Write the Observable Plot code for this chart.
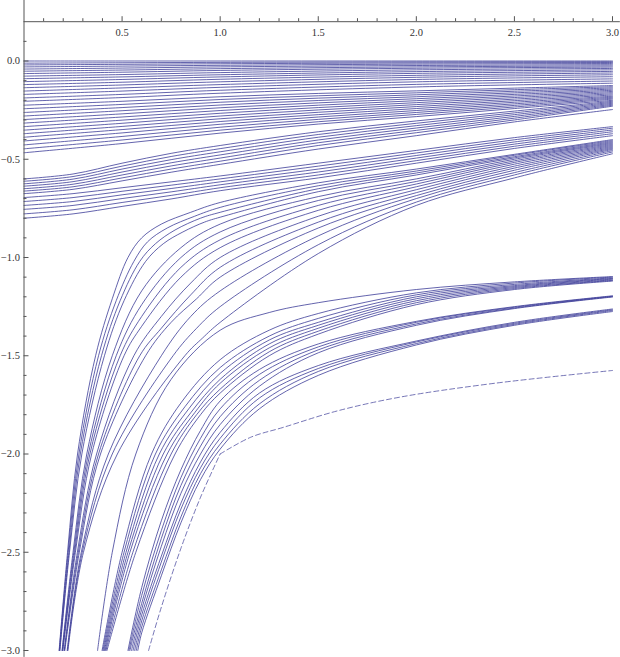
<!DOCTYPE html>
<html><head><meta charset="utf-8">
<script src="https://cdn.jsdelivr.net/npm/d3@7"></script>
<script src="https://cdn.jsdelivr.net/npm/@observablehq/plot@0.6"></script>
<style>body{margin:0;background:#fff}</style>
</head><body><div id="chart"></div>
<script>
// ---- tick labels ----
const xTickValues = [0.5, 1.0, 1.5, 2.0, 2.5, 3.0];
const xTickLabels = ["0.5", "1.0", "1.5", "2.0", "2.5", "3.0"];
const yTickValues = [0, -0.5, -1, -1.5, -2, -2.5, -3];
const yTickLabels = ["0.0", "\u22120.5", "\u22121.0", "\u22121.5", "\u22122.0", "\u22122.5", "\u22123.0"];

// ---- top fan (starts 0 .. -0.2 at x=0) ----
const s1aX = [0, 0.5, 1, 2, 3];
const s1aY = [
  [0, 0, 0, 0, 0],
  [-0.011, -0.009, -0.007, -0.005, -0.004],
  [-0.02, -0.017, -0.014, -0.01, -0.008],
  [-0.03, -0.026, -0.022, -0.016, -0.013],
  [-0.041, -0.036, -0.03, -0.023, -0.019],
  [-0.052, -0.046, -0.039, -0.03, -0.025],
  [-0.064, -0.057, -0.048, -0.037, -0.031],
  [-0.077, -0.069, -0.059, -0.045, -0.038],
  [-0.09, -0.081, -0.07, -0.054, -0.045],
  [-0.105, -0.094, -0.081, -0.063, -0.053],
  [-0.12, -0.108, -0.093, -0.073, -0.061],
  [-0.136, -0.122, -0.106, -0.083, -0.07],
  [-0.153, -0.137, -0.12, -0.094, -0.08],
  [-0.17, -0.153, -0.134, -0.106, -0.091],
  [-0.188, -0.17, -0.149, -0.119, -0.102],
  [-0.205, -0.186, -0.164, -0.132, -0.113]
];

// ---- second fan (starts -0.22 .. -0.47 at x=0) ----
const s1bX = [0, 0.5, 1, 1.5, 2, 2.5, 3];
const s1bY = [
  [-0.225, -0.205, -0.182, -0.165, -0.152, -0.138, -0.125],
  [-0.243, -0.221, -0.196, -0.177, -0.162, -0.146, -0.131],
  [-0.262, -0.237, -0.21, -0.189, -0.172, -0.154, -0.137],
  [-0.28, -0.253, -0.224, -0.201, -0.182, -0.162, -0.143],
  [-0.298, -0.269, -0.238, -0.213, -0.192, -0.17, -0.149],
  [-0.316, -0.285, -0.252, -0.225, -0.202, -0.178, -0.155],
  [-0.334, -0.301, -0.266, -0.237, -0.212, -0.186, -0.161],
  [-0.352, -0.317, -0.28, -0.249, -0.222, -0.194, -0.167],
  [-0.37, -0.333, -0.294, -0.261, -0.232, -0.202, -0.173],
  [-0.388, -0.349, -0.308, -0.273, -0.242, -0.21, -0.179],
  [-0.407, -0.366, -0.322, -0.285, -0.252, -0.218, -0.184],
  [-0.427, -0.384, -0.337, -0.297, -0.262, -0.226, -0.189],
  [-0.447, -0.402, -0.352, -0.309, -0.272, -0.234, -0.194],
  [-0.467, -0.42, -0.367, -0.321, -0.283, -0.242, -0.2]
];

// ---- band starting -0.60 .. -0.68 ----
const s2X = [0, 0.25, 0.5, 0.75, 1, 1.5, 2, 2.5, 3];
const s2uY = [
  [-0.600, -0.575, -0.52, -0.47, -0.43, -0.36, -0.305, -0.255, -0.205],
  [-0.612, -0.588, -0.535, -0.486, -0.446, -0.374, -0.317, -0.264, -0.21],
  [-0.625, -0.601, -0.55, -0.502, -0.462, -0.388, -0.329, -0.273, -0.215],
  [-0.637, -0.614, -0.565, -0.518, -0.478, -0.402, -0.341, -0.282, -0.22],
  [-0.65, -0.627, -0.58, -0.534, -0.494, -0.416, -0.353, -0.291, -0.225],
  [-0.662, -0.64, -0.595, -0.55, -0.51, -0.43, -0.365, -0.3, -0.23],
  [-0.675, -0.653, -0.61, -0.566, -0.526, -0.448, -0.38, -0.31, -0.247]
];
// ---- band starting -0.70 .. -0.80 ----
const s2lY = [
  [-0.695, -0.675, -0.645, -0.615, -0.585, -0.52, -0.455, -0.39, -0.334],
  [-0.715, -0.695, -0.663, -0.632, -0.6, -0.535, -0.468, -0.401, -0.342],
  [-0.735, -0.715, -0.681, -0.649, -0.615, -0.55, -0.481, -0.412, -0.351],
  [-0.755, -0.735, -0.7, -0.666, -0.63, -0.565, -0.494, -0.423, -0.36],
  [-0.778, -0.757, -0.72, -0.684, -0.645, -0.58, -0.507, -0.434, -0.37],
  [-0.8, -0.778, -0.74, -0.702, -0.66, -0.595, -0.52, -0.445, -0.38]
];

// ---- steep fan F1 (from -3 near x=0.18..0.22), points [x, y] ----
const f1Lines = [
  [[0.179,-3],[0.222,-2.5],[0.273,-2],[0.365,-1.5],[0.45,-1.21],[0.53,-1.0],[0.6,-0.9],[0.7,-0.83],[0.85,-0.77],[1,-0.72],[1.5,-0.62],[2,-0.55],[2.5,-0.475],[3,-0.40]],
  [[0.180,-3],[0.225,-2.5],[0.28,-2],[0.38,-1.5],[0.47,-1.22],[0.56,-1.02],[0.63,-0.92],[0.73,-0.85],[0.87,-0.79],[1,-0.745],[1.5,-0.635],[2,-0.56],[2.5,-0.48],[3,-0.405]],
  [[0.182,-3],[0.229,-2.5],[0.287,-2],[0.395,-1.5],[0.49,-1.22],[0.59,-1.02],[0.67,-0.93],[0.77,-0.86],[0.9,-0.8],[1,-0.77],[1.5,-0.65],[2,-0.57],[2.5,-0.487],[3,-0.41]],
  [[0.183,-3],[0.232,-2.5],[0.295,-2],[0.41,-1.5],[0.51,-1.22],[0.62,-1.02],[0.71,-0.93],[0.81,-0.87],[0.92,-0.82],[1,-0.795],[1.5,-0.665],[2,-0.58],[2.5,-0.493],[3,-0.415]],
  [[0.194,-3],[0.25,-2.5],[0.32,-2],[0.45,-1.5],[0.6,-1.17],[0.8,-0.95],[1,-0.83],[1.5,-0.69],[2,-0.6],[2.5,-0.5],[3,-0.42]],
  [[0.195,-3],[0.254,-2.5],[0.328,-2],[0.47,-1.5],[0.6,-1.24],[0.8,-1.0],[1,-0.87],[1.5,-0.71],[2,-0.613],[2.5,-0.508],[3,-0.425]],
  [[0.197,-3],[0.258,-2.5],[0.336,-2],[0.49,-1.5],[0.6,-1.3],[0.8,-1.05],[1,-0.91],[1.5,-0.735],[2,-0.626],[2.5,-0.516],[3,-0.43]],
  [[0.198,-3],[0.262,-2.5],[0.345,-2],[0.51,-1.5],[0.6,-1.35],[0.8,-1.1],[1,-0.95],[1.5,-0.76],[2,-0.64],[2.5,-0.525],[3,-0.435]],
  [[0.205,-3],[0.272,-2.5],[0.37,-2],[0.56,-1.5],[0.7,-1.3],[0.85,-1.13],[1,-1.0],[1.5,-0.79],[2,-0.655],[2.5,-0.535],[3,-0.44]],
  [[0.206,-3],[0.277,-2.5],[0.38,-2],[0.59,-1.5],[0.7,-1.36],[0.85,-1.19],[1,-1.05],[1.5,-0.82],[2,-0.67],[2.5,-0.545],[3,-0.445]],
  [[0.208,-3],[0.282,-2.5],[0.39,-2],[0.62,-1.5],[0.75,-1.33],[0.88,-1.21],[1,-1.1],[1.5,-0.85],[2,-0.685],[2.5,-0.556],[3,-0.45]],
  [[0.220,-3],[0.292,-2.5],[0.43,-2],[0.7,-1.5],[0.85,-1.3],[1,-1.17],[1.5,-0.89],[2,-0.7],[2.5,-0.568],[3,-0.456]],
  [[0.222,-3],[0.297,-2.5],[0.45,-2],[0.76,-1.5],[0.88,-1.36],[1,-1.25],[1.5,-0.935],[2,-0.718],[2.5,-0.58],[3,-0.463]],
  [[0.224,-3],[0.303,-2.5],[0.476,-2],[0.82,-1.5],[0.91,-1.41],[1,-1.33],[1.5,-0.98],[2,-0.735],[2.5,-0.595],[3,-0.472]]
];

// ---- steep fan F2 (from -3 near x=0.38..0.42) ----
const f2Lines = [
  [[0.375,-3],[0.45,-2.5],[0.57,-2],[0.75,-1.62],[1,-1.37],[1.25,-1.28],[1.5,-1.23],[2,-1.163],[2.5,-1.124],[3,-1.097]],
  [[0.398,-3],[0.5,-2.5],[0.65,-2],[0.8,-1.74],[1,-1.52],[1.25,-1.37],[1.5,-1.285],[2,-1.18],[2.5,-1.13],[3,-1.1]],
  [[0.402,-3],[0.51,-2.5],[0.67,-2],[0.82,-1.76],[1,-1.56],[1.25,-1.4],[1.5,-1.31],[2,-1.19],[2.5,-1.137],[3,-1.104]],
  [[0.406,-3],[0.52,-2.5],[0.69,-2],[0.84,-1.77],[1,-1.59],[1.25,-1.42],[1.5,-1.33],[2,-1.2],[2.5,-1.143],[3,-1.107]],
  [[0.41,-3],[0.53,-2.5],[0.71,-2],[0.85,-1.79],[1,-1.62],[1.25,-1.44],[1.5,-1.345],[2,-1.21],[2.5,-1.148],[3,-1.11]],
  [[0.414,-3],[0.54,-2.5],[0.73,-2],[0.87,-1.79],[1,-1.64],[1.25,-1.46],[1.5,-1.36],[2,-1.22],[2.5,-1.153],[3,-1.114]],
  [[0.418,-3],[0.555,-2.5],[0.75,-2],[0.88,-1.8],[1,-1.67],[1.25,-1.48],[1.5,-1.375],[2,-1.23],[2.5,-1.158],[3,-1.117]],
  [[0.423,-3],[0.57,-2.5],[0.77,-2],[0.9,-1.8],[1,-1.69],[1.25,-1.5],[1.5,-1.39],[2,-1.24],[2.5,-1.163],[3,-1.12]]
];

// ---- steep fan F3 (from -3 near x=0.53..0.58) ----
const f3XatM3 = [0.530, 0.535, 0.54, 0.548, 0.556, 0.564, 0.572, 0.58];
const f3X = [0.6, 0.7, 0.8, 0.9, 1.0, 1.2, 1.5, 2, 2.5, 3];
const f3Y = [
  [-2.68, -2.34, -2.08, -1.88, -1.73, -1.57, -1.44, -1.325, -1.25, -1.195],
  [-2.72, -2.39, -2.12, -1.92, -1.77, -1.595, -1.455, -1.33, -1.253, -1.197],
  [-2.76, -2.43, -2.16, -1.96, -1.81, -1.625, -1.47, -1.338, -1.257, -1.199],
  [-2.79, -2.47, -2.2, -2.0, -1.85, -1.655, -1.485, -1.345, -1.26, -1.201],
  [-2.82, -2.52, -2.25, -2.04, -1.89, -1.69, -1.55, -1.425, -1.33, -1.262],
  [-2.85, -2.55, -2.28, -2.07, -1.92, -1.715, -1.565, -1.43, -1.335, -1.266],
  [-2.88, -2.59, -2.32, -2.1, -1.95, -1.745, -1.58, -1.438, -1.34, -1.27],
  [-2.91, -2.62, -2.35, -2.13, -1.975, -1.77, -1.6, -1.445, -1.345, -1.275]
];

// ---- dashed limit curve ----
const dashLeft = [[0.635, -3], [0.7, -2.78], [0.8, -2.48], [0.9, -2.22], [1.0, -2.0]];
const dashRight = [[1.0, -2.0], [1.155, -1.915], [1.32, -1.865], [1.6, -1.78], [1.92, -1.71], [2.4, -1.64], [3.0, -1.575]];

// ---- assemble rows for the line mark ----
const rows = [];
function addGrid(name, xs, ys) {
  ys.forEach((r, i) => r.forEach((y, k) => rows.push({x: xs[k], y, id: name + i})));
}
function addPts(name, lines) {
  lines.forEach((l, i) => l.forEach(([x, y]) => rows.push({x, y, id: name + i})));
}
addGrid("s1a", s1aX, s1aY);
addGrid("s1b", s1bX, s1bY);
addGrid("s2u", s2X, s2uY);
addGrid("s2l", s2X, s2lY);
addPts("f1", f1Lines);
addPts("f2", f2Lines);
f3Y.forEach((r, i) => {
  const id = "f3" + i;
  rows.push({x: f3XatM3[i], y: -3, id});
  r.forEach((y, k) => rows.push({x: f3X[k], y, id}));
});
const dashRows = [];
dashLeft.forEach(([x, y]) => dashRows.push({x, y, id: "a"}));
dashRight.forEach(([x, y]) => dashRows.push({x, y, id: "b"}));

const xMinor = d3.range(1, 31).map(d => d / 10).filter(d => Math.abs(d * 2 - Math.round(d * 2)) > 1e-9);
const yMinor = d3.range(-29, 2).map(d => d / 10).filter(d => Math.abs(d * 2 - Math.round(d * 2)) > 1e-9);

const lineColor = "#3d3d99";
const axisColor = "#555";
const px = 1 / 196.5;
const font = "Liberation Serif, Times New Roman, serif";

const chart = Plot.plot({
  width: 620,
  height: 657,
  margin: 0,
  x: {domain: [0, 3], range: [23.5, 612], axis: null},
  y: {domain: [-3, 0], range: [650, 60.5], axis: null},
  style: {background: "#fff", overflow: "visible"},
  marks: [
    Plot.line(rows, {x: "x", y: "y", z: "id", curve: "catmull-rom", stroke: lineColor, strokeWidth: 1, strokeOpacity: 0.8}),
    Plot.line(dashRows, {x: "x", y: "y", z: "id", curve: "catmull-rom", stroke: lineColor, strokeWidth: 1, strokeOpacity: 0.7, strokeDasharray: "5,3"}),
    // axes
    Plot.ruleY([0.2], {x1: 0, x2: 3.04, stroke: axisColor, strokeWidth: 1}),
    Plot.ruleX([0], {y1: -3.035, y2: 0.31, stroke: axisColor, strokeWidth: 1}),
    Plot.ruleX(xTickValues, {x: d => d, y1: 0.2, y2: 0.2 + 5 * px, stroke: axisColor}),
    Plot.ruleX(xMinor, {x: d => d, y1: 0.2, y2: 0.2 + 3 * px, stroke: axisColor}),
    Plot.ruleY(yTickValues, {y: d => d, x1: 0, x2: 5 * px, stroke: axisColor}),
    Plot.ruleY(yMinor, {y: d => d, x1: 0, x2: 3 * px, stroke: axisColor}),
    Plot.text(xTickValues, {x: d => d, y: 0.2, text: (d, i) => xTickLabels[i], dy: 11, fontSize: 10.5, fontFamily: font, fill: "#333"}),
    Plot.text(yTickValues, {x: 0, y: d => d, text: (d, i) => yTickLabels[i], dx: -4, textAnchor: "end", fontSize: 10.5, fontFamily: font, fill: "#333"})
  ]
});
document.getElementById("chart").appendChild(chart);
</script>
</body></html>
